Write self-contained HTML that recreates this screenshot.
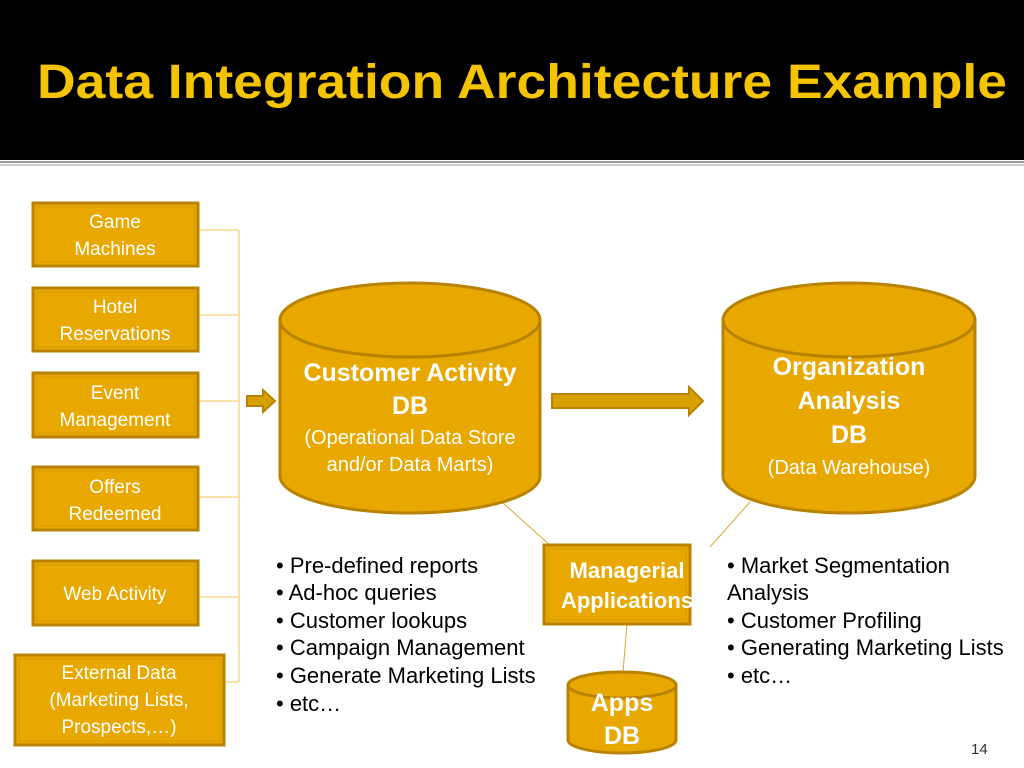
<!DOCTYPE html>
<html><head><meta charset="utf-8"><style>
html,body{margin:0;padding:0;background:#fff}
svg{display:block}
.w{font-family:"Liberation Sans",sans-serif;fill:#fff}
.k{font-family:"Liberation Sans",sans-serif;fill:#000;font-size:22px}
</style></head><body>
<svg width="1024" height="768" viewBox="0 0 1024 768" xmlns="http://www.w3.org/2000/svg">
<rect x="0" y="0" width="1024" height="160" fill="#000"/>
<rect x="0" y="161" width="1024" height="2" fill="#9a9a9a"/>
<rect x="0" y="164" width="1024" height="2" fill="#d0d0d0"/>
<text x="37" y="98" font-family="Liberation Sans,sans-serif" font-size="48" font-weight="bold" fill="#F5C400" textLength="970" lengthAdjust="spacingAndGlyphs">Data Integration Architecture Example</text>

<g stroke="#F0C850" stroke-width="1" fill="none">
<line x1="198" y1="230" x2="239" y2="230"/>
<line x1="198" y1="315" x2="239" y2="315"/>
<line x1="198" y1="401" x2="239" y2="401"/>
<line x1="198" y1="497" x2="239" y2="497"/>
<line x1="198" y1="597" x2="239" y2="597"/>
<line x1="224" y1="682" x2="239" y2="682"/>
<line x1="239" y1="230" x2="239" y2="682"/>
</g>
<g stroke="#D8A830" stroke-width="1">
<line x1="503" y1="503" x2="552" y2="547"/>
<line x1="750" y1="502" x2="710" y2="547"/>
<line x1="627" y1="624" x2="623" y2="672"/>
</g>

<g fill="#E8A800" stroke="#B88300" stroke-width="3">
<rect x="33" y="203" width="165" height="63"/>
<rect x="33" y="288" width="165" height="63"/>
<rect x="33" y="373" width="165" height="64"/>
<rect x="33" y="467" width="165" height="63"/>
<rect x="33" y="561" width="165" height="64"/>
<rect x="15" y="655" width="209" height="90"/>
<rect x="544" y="545" width="146" height="79"/>
</g>
<g fill="none" stroke="#D89A00" stroke-width="1">
<rect x="37" y="207" width="157" height="55"/>
<rect x="37" y="292" width="157" height="55"/>
<rect x="37" y="377" width="157" height="56"/>
<rect x="37" y="471" width="157" height="55"/>
<rect x="37" y="565" width="157" height="56"/>
<rect x="19" y="659" width="201" height="82"/>
<rect x="548" y="549" width="138" height="71"/>
</g>

<g fill="#E8A800" stroke="#B88300" stroke-width="3">
<path d="M280 320 L280 476 A130 37 0 0 0 540 476 L540 320 Z"/>
<ellipse cx="410" cy="320" rx="130" ry="37"/>
<path d="M723 320 L723 476 A126 37 0 0 0 975 476 L975 320 Z"/>
<ellipse cx="849" cy="320" rx="126" ry="37"/>
<path d="M568 685 L568 740 A54 13 0 0 0 676 740 L676 685 Z"/>
<ellipse cx="622" cy="685" rx="54" ry="13"/>
</g>

<g fill="#D8A000" stroke="#B88300" stroke-width="2">
<path d="M247 396 L263 396 L263 390 L275 401 L263 412 L263 406 L247 406 Z"/>
<path d="M552 394 L689 394 L689 387 L703 401 L689 415 L689 408 L552 408 Z"/>
</g>

<g class="w" font-size="19" text-anchor="middle">
<text x="115" y="228">Game</text><text x="115" y="255">Machines</text>
<text x="115" y="313">Hotel</text><text x="115" y="340">Reservations</text>
<text x="115" y="399">Event</text><text x="115" y="426">Management</text>
<text x="115" y="493">Offers</text><text x="115" y="520">Redeemed</text>
<text x="115" y="600">Web Activity</text>
<text x="119" y="679">External Data</text><text x="119" y="706">(Marketing Lists,</text><text x="119" y="733">Prospects,…)</text>
<text x="410" y="381" font-size="25" font-weight="bold">Customer Activity</text>
<text x="410" y="414" font-size="25" font-weight="bold">DB</text>
<text x="410" y="444" font-size="20">(Operational Data Store</text>
<text x="410" y="471" font-size="20">and/or Data Marts)</text>
<text x="849" y="375" font-size="25" font-weight="bold">Organization</text>
<text x="849" y="409" font-size="25" font-weight="bold">Analysis</text>
<text x="849" y="443" font-size="25" font-weight="bold">DB</text>
<text x="849" y="474" font-size="20">(Data Warehouse)</text>
<text x="627" y="578" font-size="22" font-weight="bold">Managerial</text>
<text x="627" y="608" font-size="22" font-weight="bold">Applications</text>
<text x="622" y="711" font-size="25" font-weight="bold">Apps</text>
<text x="622" y="744" font-size="25" font-weight="bold">DB</text>
</g>

<g class="k">
<text x="276" y="573">• Pre-defined reports</text>
<text x="276" y="600">• Ad-hoc queries</text>
<text x="276" y="628">• Customer lookups</text>
<text x="276" y="655">• Campaign Management</text>
<text x="276" y="683">• Generate Marketing Lists</text>
<text x="276" y="711">• etc…</text>
<text x="727" y="573">• Market Segmentation</text>
<text x="727" y="600">Analysis</text>
<text x="727" y="628">• Customer Profiling</text>
<text x="727" y="655">• Generating Marketing Lists</text>
<text x="727" y="683">• etc…</text>
<text x="971" y="754" font-size="15" fill="#333">14</text>
</g>
</svg>
</body></html>
